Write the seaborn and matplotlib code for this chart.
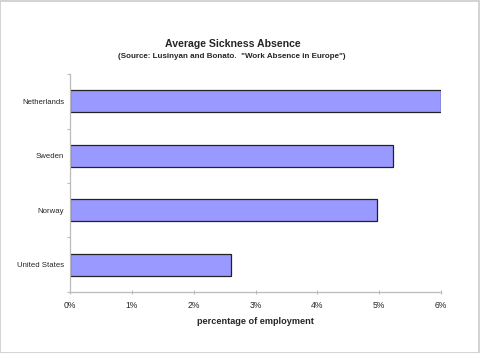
import matplotlib
matplotlib.use("Agg")
import matplotlib.pyplot as plt
import seaborn as sns
import pandas as pd
from matplotlib.patches import Rectangle
from matplotlib.ticker import FixedLocator, FuncFormatter

sns.set_theme(style="white")
plt.rcParams['font.family'] = ['Liberation Sans', 'DejaVu Sans']

countries = ["Netherlands", "Sweden", "Norway", "United States"]
values = [6.0, 5.22, 4.96, 2.60]
xticks = [0, 1, 2, 3, 4, 5, 6]

df = pd.DataFrame({"country": countries, "value": values})

fig = plt.figure(figsize=(4.8, 3.53), dpi=100)
ax = fig.add_axes([70/480, 1-292/353, (441-70)/480, (292-74)/353])

sns.barplot(data=df, x="value", y="country", order=countries, orient="h",
            color="#9999ff", saturation=1, width=0.4,
            edgecolor="#222222", linewidth=0.9, ax=ax)

ax.set_xlim(0, 6)
ax.set_ylim(len(countries)-0.5, -0.5)
ax.set_xticks(xticks)
ax.xaxis.set_major_formatter(FuncFormatter(lambda v, p: f"{int(v)}%"))
ax.tick_params(axis="x", length=3, width=0.8, color="#bbbbbb", labelsize=6.2, pad=5.2,
               direction="inout", bottom=True)
ax.tick_params(axis="y", which="major", length=0, labelsize=5.6, pad=4.2)
ax.yaxis.set_minor_locator(FixedLocator([i - 0.5 for i in range(len(countries)+1)]))
ax.tick_params(axis="y", which="minor", length=2.5, width=0.8, color="#bbbbbb", left=True)

for s in ["top", "right"]:
    ax.spines[s].set_visible(False)
for s in ["left", "bottom"]:
    ax.spines[s].set_color("#bbbbbb")
    ax.spines[s].set_linewidth(0.9)

ax.set_ylabel("")
ax.set_xlabel("percentage of employment", fontsize=6.6, fontweight="bold", labelpad=5)

fig.text(0.485, 1-44/353, "Average Sickness Absence", ha="center", va="center",
         fontsize=7.6, fontweight="bold")
fig.text(0.483, 1-56/353, "(Source: Lusinyan and Bonato.  \"Work Absence in Europe\")",
         ha="center", va="center", fontsize=5.75, fontweight="bold")

fig.patches.append(Rectangle((0.001, 0.001), 0.997, 0.997, transform=fig.transFigure,
                             fill=False, edgecolor="#cccccc", linewidth=1.2))

fig.savefig("out.png", dpi=100)
